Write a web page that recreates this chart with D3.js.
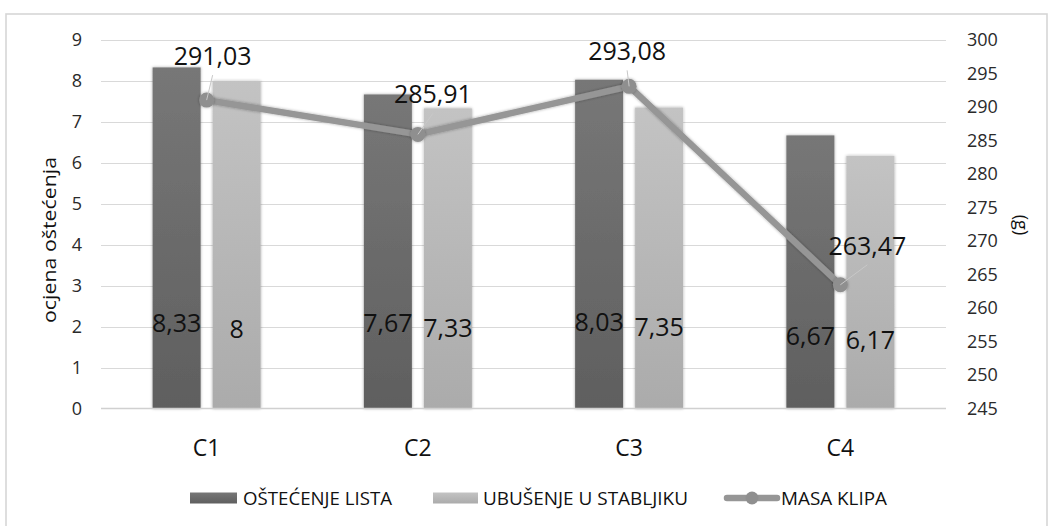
<!DOCTYPE html>
<html><head><meta charset="utf-8">
<script src="https://cdn.jsdelivr.net/npm/d3@7"></script>
<style>
html,body{margin:0;padding:0;background:#fff;}
svg{display:block;font-family:"Open Sans",sans-serif;}
</style></head>
<body><svg id="chart" width="1049" height="526"></svg>
<script>
// ---- data ----
const categories = ["C1", "C2", "C3", "C4"];
const seriesNames = ["OŠTEĆENJE LISTA", "UBUŠENJE U STABLJIKU", "MASA KLIPA"];
const ostecenjeLista = [8.33, 7.67, 8.03, 6.67];
const ubusenjeStabljiku = [8, 7.33, 7.35, 6.17];
const masaKlipa = [291.03, 285.91, 293.08, 263.47];
const leftTicks = [0, 1, 2, 3, 4, 5, 6, 7, 8, 9];
const rightTicks = [245, 250, 255, 260, 265, 270, 275, 280, 285, 290, 295, 300];
const leftTitle = "ocjena oštećenja";
const rightTitle = "(g)";

// ---- layout ----
const W = 1049, H = 526;
const plot = {left: 101, right: 946, top: 40, bottom: 408.5};
const lineLabelOffsets = [[6, -45], [15, -41], [-2, -36], [27, -40]];
const barLabelNudge = [[-5, -5, -6, 8], [1, 0, -1, 12]];
const fmt = v => String(v).replace(".", ",");

const svg = d3.select("#chart");
const defs = svg.append("defs");
function grad(id, top, bot) {
  const g = defs.append("linearGradient").attr("id", id).attr("x1", 0).attr("y1", 0).attr("x2", 0).attr("y2", 1);
  g.append("stop").attr("offset", "0%").attr("stop-color", top);
  g.append("stop").attr("offset", "100%").attr("stop-color", bot);
}
grad("gDark", "#777777", "#5f5f5f");
grad("gLight", "#c3c3c3", "#ababab");
const sh = defs.append("filter").attr("id", "shadow").attr("x", "-20%").attr("y", "-20%").attr("width", "140%").attr("height", "140%");
sh.append("feDropShadow").attr("dx", 0).attr("dy", 0).attr("stdDeviation", 1.6).attr("flood-color", "#000").attr("flood-opacity", 0.35);

// border
svg.append("rect").attr("x", 6).attr("y", 14).attr("width", 1041).attr("height", 530)
  .attr("fill", "none").attr("stroke", "#d6d6d6").attr("stroke-width", 1.6);

// scales
const x = d3.scaleBand().domain(categories).range([plot.left, plot.right]).paddingInner(0.4887).paddingOuter(0.24435);
const xs = d3.scaleBand().domain([0, 1]).range([0, x.bandwidth()]).paddingInner(0.2);
const yL = d3.scaleLinear().domain([0, 9]).range([plot.bottom, plot.top]);
const yR = d3.scaleLinear().domain([245, 300]).range([plot.bottom, plot.top]);
const cx = c => x(c) + x.bandwidth() / 2;

// gridlines
svg.append("g").selectAll("line").data(leftTicks.filter(t => t > 0)).join("line")
  .attr("x1", plot.left).attr("x2", plot.right)
  .attr("y1", d => Math.round(yL(d)) + 0.5).attr("y2", d => Math.round(yL(d)) + 0.5)
  .attr("stroke", "#d9d9d9").attr("stroke-width", 1);

// left axis
const axL = svg.append("g").attr("transform", `translate(${plot.left},0)`)
  .call(d3.axisLeft(yL).tickValues(leftTicks).tickSize(0).tickPadding(19).tickFormat(d3.format("d")));
axL.select(".domain").remove();
axL.selectAll("text").attr("font-size", 18).attr("fill", "#2a2a2a").attr("font-family", "Open Sans");

// right axis
const axR = svg.append("g").attr("transform", `translate(${plot.right},0)`)
  .call(d3.axisRight(yR).tickValues(rightTicks).tickSize(0).tickPadding(21).tickFormat(d3.format("d")));
axR.select(".domain").remove();
axR.selectAll("text").attr("font-size", 18).attr("fill", "#2a2a2a").attr("font-family", "Open Sans");

// bars
const bars = svg.append("g").attr("filter", "url(#shadow)");
[ostecenjeLista, ubusenjeStabljiku].forEach((vals, si) => {
  bars.selectAll(".b" + si).data(vals).join("rect").attr("class", "b" + si)
    .attr("x", (d, i) => x(categories[i]) + xs(si))
    .attr("width", xs.bandwidth())
    .attr("y", d => yL(d))
    .attr("height", d => yL(0) - yL(d))
    .attr("fill", si === 0 ? "url(#gDark)" : "url(#gLight)");
});

// baseline
svg.append("line").attr("x1", plot.left).attr("x2", plot.right)
  .attr("y1", yL(0)).attr("y2", yL(0)).attr("stroke", "#d0d0d0").attr("stroke-width", 1.6);

// bar labels
[ostecenjeLista, ubusenjeStabljiku].forEach((vals, si) => {
  svg.append("g").selectAll("text").data(vals).join("text")
    .attr("x", (d, i) => x(categories[i]) + xs(si) + xs.bandwidth() / 2)
    .attr("y", (d, i) => yL(2) + barLabelNudge[si][i])
    .attr("text-anchor", "middle").attr("dominant-baseline", "central")
    .attr("font-size", 25).attr("fill", "#111")
    .text(d => fmt(d));
});

// line
const pts = masaKlipa.map((v, i) => [cx(categories[i]), yR(v)]);
const lg = svg.append("g");
lg.append("path").attr("d", d3.line()(pts)).attr("fill", "none")
  .attr("stroke", "#969696").attr("stroke-width", 6.5).attr("stroke-linejoin", "round")
  .attr("filter", "url(#shadow)");
lg.selectAll("circle").data(pts).join("circle")
  .attr("cx", d => d[0]).attr("cy", d => d[1]).attr("r", 7.5)
  .attr("fill", "#8f8f8f").attr("filter", "url(#shadow)");
// leader lines
lg.selectAll("line.leader").data(pts).join("line").attr("class", "leader")
  .attr("x1", d => d[0]).attr("y1", d => d[1])
  .attr("x2", (d, i) => d[0] + lineLabelOffsets[i][0])
  .attr("y2", (d, i) => d[1] + lineLabelOffsets[i][1] + 20)
  .attr("stroke", "#c8c8c8").attr("stroke-width", 1);
// line labels
svg.append("g").selectAll("text").data(masaKlipa).join("text")
  .attr("x", (d, i) => pts[i][0] + lineLabelOffsets[i][0])
  .attr("y", (d, i) => pts[i][1] + lineLabelOffsets[i][1])
  .attr("text-anchor", "middle").attr("dominant-baseline", "central")
  .attr("font-size", 25).attr("fill", "#111")
  .text(d => fmt(d));

// category labels
svg.append("g").selectAll("text").data(categories).join("text")
  .attr("x", d => cx(d)).attr("y", 447)
  .attr("text-anchor", "middle").attr("dominant-baseline", "central")
  .attr("font-size", 23).attr("fill", "#111").text(d => d);

// axis titles
svg.append("text").attr("transform", "translate(49,240) rotate(-90)")
  .attr("text-anchor", "middle").attr("dominant-baseline", "central")
  .attr("font-size", 18).attr("fill", "#111")
  .attr("textLength", 166).attr("lengthAdjust", "spacingAndGlyphs").text(leftTitle);
svg.append("text").attr("transform", "translate(1022,225) rotate(90)")
  .attr("text-anchor", "middle").attr("dominant-baseline", "central")
  .attr("font-size", 18).attr("fill", "#111").text(rightTitle);

// legend
const legY = 498;
const leg = svg.append("g");
leg.append("rect").attr("x", 190).attr("y", legY - 5.5).attr("width", 47).attr("height", 11).attr("fill", "url(#gDark)");
leg.append("text").attr("x", 243).attr("y", legY).attr("dominant-baseline", "central")
  .attr("font-size", 18).attr("fill", "#111").attr("textLength", 149).attr("lengthAdjust", "spacingAndGlyphs").text(seriesNames[0]);
leg.append("rect").attr("x", 433).attr("y", legY - 5.5).attr("width", 45).attr("height", 11).attr("fill", "url(#gLight)");
leg.append("text").attr("x", 483).attr("y", legY).attr("dominant-baseline", "central")
  .attr("font-size", 18).attr("fill", "#111").attr("textLength", 205).attr("lengthAdjust", "spacingAndGlyphs").text(seriesNames[1]);
leg.append("line").attr("x1", 727).attr("x2", 777).attr("y1", legY).attr("y2", legY)
  .attr("stroke", "#969696").attr("stroke-width", 6.5).attr("stroke-linecap", "round");
leg.append("circle").attr("cx", 752).attr("cy", legY).attr("r", 6.5).attr("fill", "#8f8f8f");
leg.append("text").attr("x", 781).attr("y", legY).attr("dominant-baseline", "central")
  .attr("font-size", 18).attr("fill", "#111").attr("textLength", 106).attr("lengthAdjust", "spacingAndGlyphs").text(seriesNames[2]);
</script></body></html>
